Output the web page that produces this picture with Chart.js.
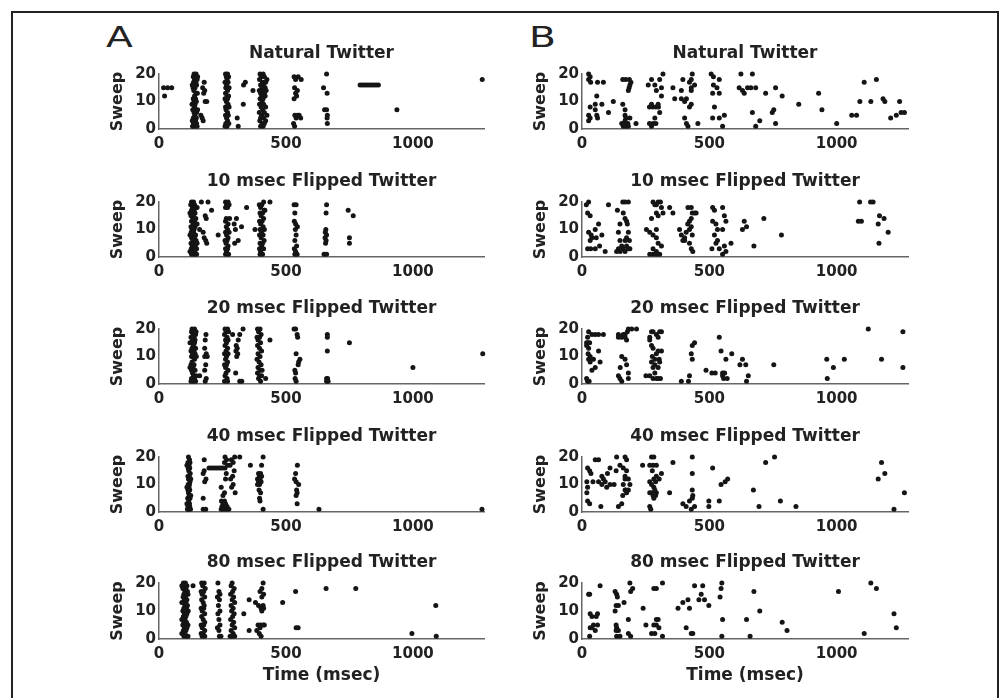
<!DOCTYPE html>
<html>
<head>
<meta charset="utf-8">
<script src="https://cdn.jsdelivr.net/npm/chart.js@4.4.0/dist/chart.umd.min.js"></script>
<style>
body { margin:0; background:#fff; width:1000px; height:698px; overflow:hidden; position:relative; font-family:"DejaVu Sans", sans-serif; }
#frame { position:absolute; left:11px; top:11px; width:984px; height:720px; border:2px solid #222; border-bottom:none; }
.letter { position:absolute; font-size:28px; line-height:28px; color:#222; transform:scaleX(1.4); transform-origin:left top; }
canvas { position:absolute; }
</style>
</head>
<body>
<div id="frame"></div>
<div class="letter" style="left:106px;top:24px">A</div>
<div class="letter" style="left:529px;top:24px">B</div>

<script>
// DATA: spike times (msec) and sweep number, one array per panel
const titles = ["Natural Twitter", "10 msec Flipped Twitter", "20 msec Flipped Twitter",
                "40 msec Flipped Twitter", "80 msec Flipped Twitter"];
const xTicks = [0, 500, 1000];
const yTicks = [0, 10, 20];

const natA = [
  [18,15],[34,15],[50,15],[22,12],
  [138,20],[146,20],[135,19],[143,19],[140,18],[150,18],[136,17],[145,17],[139,16],[148,16],[134,15],[142,15],
  [137,14],[146,13],[140,12],[135,11],[144,11],[138,10],[147,10],[136,9],[142,9],[140,8],[133,7],[145,7],
  [138,6],[148,6],[141,5],[135,4],[147,4],[139,3],[144,3],[136,2],[148,2],[140,1],[150,1],[132,1],
  [152,19],[131,16],[151,13],[130,9],[152,7],[131,3],
  [178,17],[172,15],[180,14],[176,13],[182,10],[188,10],[170,4],[174,3],[165,5],
  [262,20],[270,20],[265,19],[274,19],[268,18],[260,17],[272,17],[266,16],[263,15],[276,15],[270,14],[262,13],
  [268,12],[274,12],[260,11],[270,11],[265,10],[272,9],[262,8],[268,8],[276,8],[264,7],[270,6],[262,5],[273,5],
  [266,4],[270,3],[263,2],[275,2],[268,1],[260,1],
  [340,17],[333,16],[332,9],[308,4],[312,1],[370,14],
  [398,20],[410,20],[402,19],[415,19],[425,18],[396,18],[408,17],[420,17],[400,16],[412,16],[405,15],[418,15],
  [395,14],[410,14],[422,14],[400,13],[415,13],[404,12],[418,12],[398,11],[410,11],[406,10],[396,9],[412,9],
  [402,8],[420,8],[408,7],[395,6],[415,6],[404,5],[425,5],[400,4],[412,4],[420,3],[397,3],[406,2],[415,2],[400,1],[410,1],
  [532,19],[548,19],[538,18],[560,18],[534,15],[545,14],[538,13],[532,11],[542,12],[535,5],[545,5],[552,5],
  [558,4],[540,4],[530,2],[534,1],
  [660,20],[648,15],[662,13],[652,7],[660,7],[663,5],[662,4],[663,2],
  [792,16],[801,16],[810,16],[819,16],[828,16],[837,16],[846,16],[855,16],[864,16],
  [937,7],[1273,18]
];

const flip10A = [
  [128,20],[136,20],[125,19],[140,19],[132,18],[145,18],[128,17],[138,17],[130,16],[142,16],[126,15],[136,15],
  [133,14],[145,14],[128,13],[140,13],[135,12],[126,11],[142,11],[130,10],[138,10],[127,9],[136,9],[132,8],
  [144,8],[128,7],[140,7],[133,6],[146,6],[126,5],[138,5],[131,4],[143,4],[127,3],[137,3],[148,3],[130,2],
  [141,2],[128,1],[138,1],[148,1],
  [150,18],[122,16],[150,12],[122,8],[150,5],[122,2],
  [167,20],[193,20],[207,17],[182,15],[186,14],[160,10],[174,9],[233,8],[178,7],[184,6],[188,5],
  [262,20],[272,20],[266,19],[276,19],[262,18],[270,18],[265,14],[278,14],[262,13],[272,12],[265,11],[270,10],
  [262,9],[276,9],[266,8],[272,7],[260,6],[268,6],[264,5],[272,4],[262,3],[270,3],[266,2],[274,1],[262,1],
  [305,14],[301,10],[296,12],[312,6],[298,5],[345,18],[325,11],[378,10],
  [395,19],[405,19],[412,20],[400,18],[415,17],[398,16],[408,16],[402,15],[412,14],[396,13],[406,13],[400,12],
  [410,11],[398,10],[415,10],[404,9],[396,8],[410,8],[402,7],[414,6],[398,5],[408,5],[404,4],[396,3],[412,3],
  [400,2],[408,1],[398,1],
  [437,20],[417,17],
  [532,19],[540,19],[535,16],[533,13],[538,12],[545,11],[537,10],[540,8],[535,6],[542,4],[533,3],[538,2],[535,1],[544,1],
  [660,19],[658,16],[657,10],[655,9],[660,8],[654,7],[658,6],[656,5],[650,1],[660,1],
  [745,17],[765,15],[750,7],[750,5]
];

const flip20A = [
  [130,20],[140,20],[128,19],[138,19],[134,18],[144,18],[126,17],[138,17],[132,16],[142,16],[128,15],[140,15],
  [135,14],[130,13],[144,13],[126,12],[138,12],[132,11],[142,11],[128,10],[136,10],[140,9],[130,8],[126,7],
  [138,7],[134,6],[128,5],[142,5],[132,4],[136,3],[128,2],[140,2],[134,1],[144,1],[126,1],
  [146,19],[122,15],[147,10],[122,6],[146,3],
  [185,18],[182,16],[180,13],[186,11],[180,10],[190,10],[184,7],[180,5],[186,2],[182,1],[160,3],
  [260,20],[270,20],[264,19],[274,19],[258,18],[268,17],[262,16],[272,16],[266,15],[260,14],[270,13],[264,12],
  [258,11],[272,11],[266,10],[262,9],[270,8],[258,7],[266,7],[262,6],[272,5],[264,4],[260,3],[268,2],[258,1],[270,1],
  [331,20],[318,18],[312,16],[304,14],[308,13],[303,12],[310,11],[306,10],[302,4],[318,1],[326,1],[290,18],
  [388,20],[398,20],[392,19],[402,18],[386,17],[396,17],[390,16],[400,15],[388,14],[396,13],[404,12],[390,11],
  [398,10],[386,9],[394,8],[402,7],[390,6],[398,5],[406,5],[388,4],[396,3],[404,3],[392,2],[400,1],
  [437,16],[420,2],
  [532,20],[538,20],[544,18],[546,17],[540,11],[555,9],[550,8],[548,7],[535,5],[538,4],[536,2],[540,1],
  [663,18],[663,17],[663,12],[660,2],[664,2],[660,1],[666,1],
  [750,15],[1000,6],[1275,11]
];

const flip40A = [
  [116,20],[120,19],[114,18],[122,18],[118,17],[115,16],[121,16],[117,15],[123,14],[114,13],[119,13],[116,12],
  [122,11],[115,10],[120,10],[118,9],[114,8],[121,8],[116,7],[119,6],[113,5],[122,5],[117,4],[120,3],[114,2],
  [121,2],[117,1],[112,1],
  [110,17],[125,12],[110,9],[125,6],[110,3],[124,1],
  [178,19],[178,15],[174,14],[185,12],[180,11],[174,5],[174,1],[184,1],
  [197,16],[206,16],[215,16],[224,16],[233,16],[242,16],[251,16],[260,16],
  [260,20],[266,19],[258,18],[270,17],[265,14],[262,12],[245,9],[258,7],[252,6],[246,4],[258,4],[252,3],[262,3],
  [248,2],[258,2],[268,2],[245,1],[255,1],[265,1],[275,1],
  [298,20],[318,20],[285,19],[292,18],[280,17],[296,15],[290,13],[292,10],[300,7],[360,17],[404,17],[410,20],[282,12],[286,9],
  [392,14],[400,14],[396,13],[404,13],[388,12],[398,12],[392,11],[402,11],[396,10],[388,10],[394,8],[400,7],
  [396,5],[398,4],[410,1],
  [545,17],[538,14],[534,12],[540,11],[550,10],[542,8],[544,7],[540,6],[544,3],
  [630,1],[1272,1]
];

const flip80A = [
  [96,20],[104,20],[100,19],[110,19],[94,18],[106,18],[102,17],[112,17],[98,16],[108,16],[95,15],[104,15],
  [100,14],[110,14],[96,13],[106,13],[102,12],[112,12],[98,11],[108,11],[94,10],[104,10],[100,9],[110,9],
  [96,8],[106,8],[102,7],[98,6],[108,6],[94,5],[104,5],[100,4],[110,4],[96,3],[106,3],[102,2],[98,1],[108,1],
  [90,19],[114,16],[90,13],[115,10],[90,7],[114,5],[90,2],[114,1],
  [134,19],
  [168,20],[178,20],[172,19],[182,18],[166,17],[176,17],[170,16],[180,15],[168,14],[174,13],[178,12],[166,11],
  [176,11],[170,10],[180,9],[168,8],[174,7],[180,6],[166,5],[176,5],[170,4],[180,3],[166,2],[174,2],[170,1],[180,1],
  [232,20],[236,17],[240,16],[230,15],[238,14],[234,12],[240,10],[232,9],[236,7],[240,5],[230,4],[236,3],[238,1],[244,1],
  [288,20],[284,19],[296,18],[290,17],[282,16],[294,15],[288,14],[298,13],[284,12],[292,11],[286,10],[296,9],
  [290,8],[282,7],[294,6],[288,5],[298,4],[284,3],[292,2],[288,1],[298,1],[280,1],
  [334,9],[355,14],[355,3],
  [410,20],[405,18],[398,17],[412,16],[405,15],[380,13],[392,12],[402,11],[410,12],[405,10],[412,11],
  [390,5],[400,5],[410,5],[415,5],[398,4],[385,3],[395,2],[402,1],
  [487,13],[538,17],[540,4],[548,4],[658,18],[775,18],[996,2],[1090,12],[1092,1]
];

const natB = [
  [26,20],[32,19],[26,18],[34,17],[61,17],[84,17],[58,12],[52,9],[78,9],[32,8],[52,7],[26,5],[58,5],[32,4],
  [61,4],[26,3],[104,6],[123,10],
  [160,18],[172,18],[186,18],[192,17],[188,16],[185,15],[182,14],[160,9],[169,7],[169,5],[172,4],[188,4],
  [169,3],[156,2],[168,2],[180,2],[162,1],[172,1],[182,1],[212,2],
  [260,16],[273,18],[286,16],[292,14],[318,20],[305,18],[312,15],[312,12],[265,8],[278,8],[290,8],[300,8],
  [273,9],[299,9],[305,6],[286,4],[279,2],[265,2],[290,2],[273,1],
  [357,15],[390,14],[364,11],[390,11],[403,10],[429,14],[429,15],[422,17],[429,18],[433,20],[396,18],[442,16],
  [410,11],[429,9],[422,8],[403,4],[416,1],[455,2],[410,2],
  [507,20],[516,19],[539,18],[516,16],[513,13],[539,13],[530,15],[520,8],[513,4],[539,4],[559,5],[552,1],
  [624,20],[669,20],[617,15],[630,14],[637,13],[663,15],[682,15],[650,15],[669,6],[698,3],[682,1],
  [721,13],[760,15],[786,12],[753,7],[747,6],[760,2],
  [851,9],[929,13],[942,7],[1000,2],
  [1059,5],[1078,5],[1091,10],[1108,17],[1134,10],[1156,18],[1182,11],[1189,10],[1212,4],[1234,5],[1247,10],[1253,6],[1266,6]
];

const flip10B = [
  [17,19],[26,20],[22,16],[32,15],[26,9],[52,10],[65,12],[36,8],[39,7],[56,7],[78,8],[22,3],[34,3],[52,3],
  [69,4],[91,2],[32,6],[104,19],
  [160,20],[169,20],[182,20],[139,17],[162,16],[169,14],[175,13],[178,12],[149,12],[143,9],[182,9],[175,7],
  [149,6],[169,6],[186,6],[143,3],[156,4],[162,3],[169,2],[136,2],[182,3],[188,3],[175,4],[150,2],
  [279,20],[292,19],[299,20],[286,19],[308,20],[292,16],[299,15],[318,16],[312,18],[273,14],[253,10],[266,9],
  [292,10],[279,8],[292,7],[299,5],[279,3],[292,2],[266,1],[279,1],[292,1],[305,1],[312,4],
  [344,18],[357,16],
  [383,10],[390,8],[396,6],[409,9],[415,12],[422,13],[429,14],[433,16],[442,16],[448,16],[429,11],[422,10],
  [403,6],[422,5],[429,3],[435,2],[403,7],[433,8],[416,18],[429,18],
  [513,18],[520,17],[552,18],[513,13],[526,12],[559,15],[565,13],[552,10],[532,10],[520,8],[532,6],[526,5],
  [510,3],[539,3],[559,4],[565,2],[552,1],[585,5],
  [630,10],[646,11],[637,13],[675,4],[714,14],[783,8],
  [1090,20],[1133,20],[1143,20],[1085,13],[1097,13],[1163,12],[1168,15],[1186,14],[1202,9],[1166,5]
];

const flip20B = [
  [26,19],[39,18],[52,18],[65,18],[84,18],[22,17],[18,15],[24,15],[30,15],[18,14],[26,13],[24,11],[32,10],
  [26,9],[45,9],[65,12],[32,8],[71,8],[52,6],[39,5],[18,2],[22,1],[28,1],
  [143,18],[162,18],[169,18],[182,20],[195,20],[178,19],[169,17],[175,16],[156,17],[143,17],[156,10],[169,9],
  [175,7],[150,6],[143,3],[149,2],[156,1],[182,4],[182,2],[214,20],
  [273,19],[279,19],[292,18],[299,17],[305,19],[312,19],[266,17],[266,16],[273,14],[279,13],[292,11],[299,12],
  [312,12],[276,10],[286,9],[303,9],[273,8],[286,7],[279,6],[299,6],[305,8],[251,3],[266,3],[279,2],[292,2],
  [299,2],[308,2],[286,4],
  [390,1],[422,3],[418,1],[429,11],[433,9],[433,14],[442,15],
  [487,5],[510,4],[523,4],[539,17],[546,12],[565,9],[588,11],[552,4],[552,3],[556,2],[560,4],[570,2],
  [620,7],[630,9],[643,7],[653,3],[646,1],
  [753,7],[961,9],[987,6],[963,2],[1030,9],[1124,20],[1176,9],[1260,19],[1260,6]
];

const flip40B = [
  [22,16],[30,15],[35,14],[19,11],[22,9],[19,7],[22,4],[30,3],[52,19],[65,19],[43,11],[65,11],[78,13],[74,2],
  [84,12],[91,11],[100,14],[97,9],[78,10],[110,16],[110,10],
  [136,20],[134,15],[143,2],[126,10],[169,20],[162,16],[149,17],[169,13],[169,12],[162,10],[169,8],[182,12],
  [182,8],[175,7],[160,6],[156,3],[188,10],[175,15],[175,19],[172,8],
  [238,17],
  [273,20],[282,20],[266,17],[279,17],[292,17],[276,15],[282,12],[266,11],[273,10],[289,11],[303,12],[312,14],
  [292,13],[282,9],[286,8],[292,7],[273,7],[279,6],[266,7],[289,6],[282,5],[266,2],[270,1],
  [344,7],[357,18],[396,3],[409,2],[433,20],[433,14],[433,8],[435,6],[433,5],[422,4],[442,2],[429,1],
  [498,4],[498,2],[513,16],[539,4],[546,10],[562,11],[572,12],
  [673,8],[695,2],[721,18],[756,20],[779,4],[840,2],[1163,12],[1176,18],[1189,14],[1225,1],[1266,7]
];

const flip80B = [
  [26,16],[30,16],[32,9],[39,8],[56,8],[61,9],[32,4],[45,5],[61,5],[39,4],[52,3],[30,1],[71,19],
  [130,17],[136,16],[139,15],[134,12],[143,12],[130,10],[134,5],[136,4],[134,3],[143,3],[149,1],[136,1],
  [165,13],[188,20],[199,18],[191,17],[182,7],[182,2],[191,1],
  [240,11],[251,5],[273,2],[286,2],[282,18],[292,18],[292,7],[299,7],[292,5],[302,4],[282,5],[316,20],[316,1],
  [377,11],[396,13],[409,4],[416,14],[422,11],[429,2],[435,2],[442,19],[459,14],[468,16],[474,19],[481,14],[498,12],
  [542,15],[546,18],[549,20],[552,7],[549,1],
  [646,7],[660,1],[675,17],[698,10],[786,6],[805,3],[1007,17],[1108,2],[1134,20],[1156,18],[1225,9],[1234,4]
];

const columnA = [natA, flip10A, flip20A, flip40A, flip80A];
const columnB = [natB, flip10B, flip20B, flip40B, flip80B];

// LAYOUT
const colLeft = [90, 513];
const colWidth = [406, 407];
const rowTop = [74, 202, 329, 457, 583];   // pixel of sweep 20
const headH = 34;
const textColor = "#222";
const fontName = "DejaVu Sans";

function makePanel(col, row, spikes) {
  const last = row === 4;
  const plotH = last ? 56 : 55;
  const footH = last ? 48 : 26;
  const cv = document.createElement("canvas");
  cv.width = colWidth[col];
  cv.height = headH + plotH + footH;
  cv.style.left = colLeft[col] + "px";
  cv.style.top = (rowTop[row] - headH) + "px";
  document.body.appendChild(cv);

  new Chart(cv.getContext("2d"), {
    type: "scatter",
    data: {
      datasets: [{
        data: spikes.map(p => ({ x: p[0], y: p[1] })),
        pointRadius: 2.5,
        pointBorderWidth: 0,
        pointBackgroundColor: "#151515",
        clip: false
      }]
    },
    options: {
      responsive: false,
      animation: false,
      events: [],
      layout: { padding: { left: 0, right: 12, top: 0, bottom: 0 } },
      plugins: {
        legend: { display: false },
        tooltip: { enabled: false },
        title: {
          display: true,
          text: titles[row],
          fullSize: false,
          color: textColor,
          font: { family: fontName, weight: "bold", size: 17 },
          padding: { top: 3, bottom: 10.6 }
        }
      },
      scales: {
        x: {
          type: "linear",
          min: 0,
          max: 1280,
          grid: { display: false, drawTicks: false },
          border: { display: true, color: "#666", width: 1.5 },
          ticks: {
            padding: 6,
            autoSkip: false,
            maxRotation: 0,
            color: textColor,
            font: { family: fontName, weight: "bold", size: 15 },
            callback: v => String(v)
          },
          afterBuildTicks: s => { s.ticks = xTicks.map(v => ({ value: v })); },
          afterFit: s => { s.height = footH; },
          title: {
            display: last,
            text: "Time (msec)",
            color: textColor,
            font: { family: fontName, weight: "bold", size: 17 },
            padding: { top: 0, bottom: 1 }
          }
        },
        y: {
          min: 0,
          max: 20,
          grid: { display: false, drawTicks: false },
          border: { display: true, color: "#666", width: 1.5 },
          ticks: {
            padding: 3,
            autoSkip: false,
            color: textColor,
            font: { family: fontName, weight: "bold", size: 15 },
            callback: v => String(v)
          },
          afterBuildTicks: s => { s.ticks = yTicks.map(v => ({ value: v })); },
          afterFit: s => { s.width = 69; },
          title: {
            display: true,
            text: "Sweep",
            color: textColor,
            font: { family: fontName, weight: "bold", size: 16 },
            padding: { top: 18.4, bottom: 0 }
          }
        }
      }
    }
  });
}

columnA.forEach((d, i) => makePanel(0, i, d));
columnB.forEach((d, i) => makePanel(1, i, d));
</script>
</body>
</html>
